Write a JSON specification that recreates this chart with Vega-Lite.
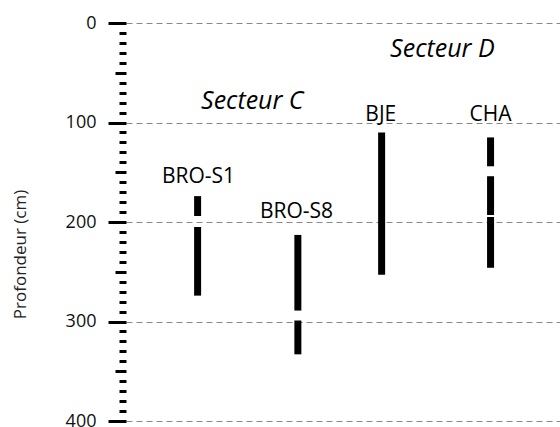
{
  "$schema": "https://vega.github.io/schema/vega-lite/v6.json",
  "autosize": "none",
  "width": 434,
  "height": 398,
  "padding": {"left": 126, "top": 23, "right": 0, "bottom": 6},
  "background": "white",
  "config": {"view": {"stroke": null}, "font": "Open Sans"},
  "datasets": {
    "segments": [
      {"site": "BRO-S1", "pos": 16.5, "top": 174, "bottom": 194},
      {"site": "BRO-S1", "pos": 16.5, "top": 205, "bottom": 274},
      {"site": "BRO-S8", "pos": 39.6, "top": 213, "bottom": 289},
      {"site": "BRO-S8", "pos": 39.6, "top": 299, "bottom": 333},
      {"site": "BJE", "pos": 58.9, "top": 110, "bottom": 253},
      {"site": "CHA", "pos": 84.0, "top": 115, "bottom": 144},
      {"site": "CHA", "pos": 84.0, "top": 154, "bottom": 193},
      {"site": "CHA", "pos": 84.0, "top": 195, "bottom": 246}
    ],
    "sites": [
      {"label": "BRO-S1", "pos": 16.7, "depth": 160.5},
      {"label": "BRO-S8", "pos": 39.3, "depth": 195.5},
      {"label": "BJE", "pos": 58.7, "depth": 98.3},
      {"label": "CHA", "pos": 84.0, "depth": 98.3}
    ],
    "sectors": [
      {"label": "Secteur C", "pos": 29.1, "depth": 86.6},
      {"label": "Secteur D", "pos": 72.9, "depth": 34}
    ]
  },
  "encoding": {
    "y": {
      "field": "top",
      "type": "quantitative",
      "scale": {"domain": [0, 400], "reverse": true, "nice": false, "zero": false},
      "axis": {
        "title": "Profondeur (cm)",
        "titleFont": "Open Sans",
        "titleFontSize": 17,
        "titleFontWeight": "normal",
        "titleColor": "#222",
        "titleAngle": -90,
        "titleX": -106,
        "titleY": 231,
        "titleAlign": "center",
        "titleBaseline": "middle",
        "values": [0,10,20,30,40,50,60,70,80,90,100,110,120,130,140,150,160,170,180,190,200,210,220,230,240,250,260,270,280,290,300,310,320,330,340,350,360,370,380,390,400],
        "labelExpr": "datum.value % 100 === 0 ? datum.label : ''",
        "labelFont": "Open Sans",
        "labelFontSize": 18,
        "labelColor": "#111",
        "labelPadding": 12,
        "labelFlush": false,
        "labelOverlap": false,
        "labelBound": false,
        "domain": false,
        "tickColor": "black",
        "tickWidth": 3,
        "tickSize": {"condition": [{"test": "datum.value % 100 === 0", "value": 18}, {"test": "datum.value % 50 === 0", "value": 11}], "value": 7},
        "grid": true,
        "gridColor": "#888",
        "gridDash": [6, 4],
        "gridWidth": 1,
        "gridOpacity": {"condition": {"test": "datum.value % 100 === 0", "value": 1}, "value": 0}
      }
    }
  },
  "layer": [
    {
      "data": {"name": "segments"},
      "mark": {"type": "rule", "strokeWidth": 7, "color": "black", "strokeCap": "butt"},
      "encoding": {
        "x": {"field": "pos", "type": "quantitative", "scale": {"domain": [0, 100]}, "axis": null},
        "y2": {"field": "bottom"}
      }
    },
    {
      "data": {"name": "sites"},
      "mark": {"type": "text", "fontSize": 21, "font": "Open Sans", "baseline": "alphabetic", "align": "center", "color": "black"},
      "encoding": {
        "x": {"field": "pos", "type": "quantitative"},
        "y": {"field": "depth", "type": "quantitative"},
        "text": {"field": "label"}
      }
    },
    {
      "data": {"name": "sectors"},
      "mark": {"type": "text", "fontSize": 25, "font": "Open Sans", "fontStyle": "italic", "baseline": "alphabetic", "align": "center", "color": "black"},
      "encoding": {
        "x": {"field": "pos", "type": "quantitative"},
        "y": {"field": "depth", "type": "quantitative"},
        "text": {"field": "label"}
      }
    }
  ]
}
